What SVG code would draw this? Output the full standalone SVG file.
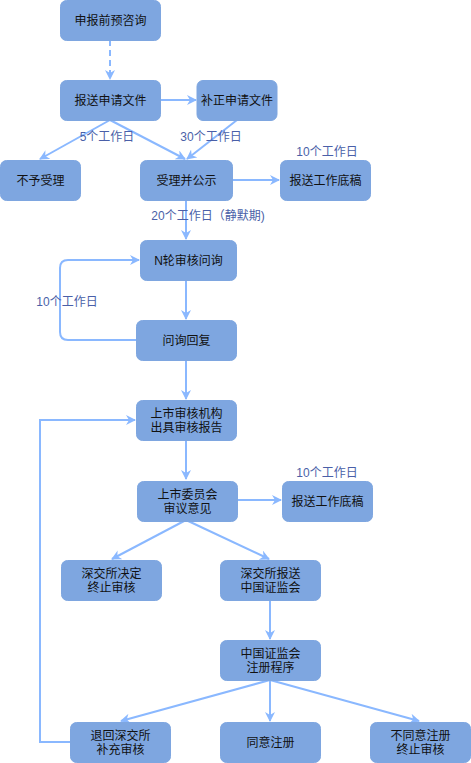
<svg xmlns="http://www.w3.org/2000/svg" width="471" height="763" viewBox="0 0 471 763">
<style>
.n{fill:#7EA6E0;stroke:#7EA6E0;}
.t{font-family:"Liberation Sans","Noto Sans CJK SC",sans-serif;font-size:12px;fill:#111;text-anchor:middle;}
.l{font-family:"Liberation Sans","Noto Sans CJK SC",sans-serif;font-size:12px;fill:#4A5FA8;text-anchor:middle;}
.c{fill:none;stroke:#8AB8FF;stroke-width:2;marker-end:url(#a);}
</style>
<defs>
<marker id="a" viewBox="0 0 10 10" refX="9" refY="5" markerWidth="5" markerHeight="5" orient="auto" markerUnits="strokeWidth">
<path d="M0,0 L10,5 L0,10 L3,5 Z" fill="#8AB8FF"/>
</marker>
</defs>
<rect width="471" height="763" fill="#fff"/>
<g id="connectors">
<path class="c" d="M110,40 V79" stroke-dasharray="6,4"/>
<path class="c" d="M161,100 H196"/>
<path class="c" d="M110,120 L40,159"/>
<path class="c" d="M110,120 L185,159"/>
<path class="c" d="M237,120 L187,159"/>
<path class="c" d="M232,180 H279"/>
<path class="c" d="M186,200 V239"/>
<path class="c" d="M186,280 V319"/>
<path class="c" d="M136,340 H68 Q60,340 60,332 V268 Q60,260 68,260 H139"/>
<path class="c" d="M186,360 V399"/>
<path class="c" d="M186,440 V479"/>
<path class="c" d="M237,500 H281"/>
<path class="c" d="M186,520 L112,559"/>
<path class="c" d="M186,520 L269,559"/>
<path class="c" d="M270,600 V639"/>
<path class="c" d="M270,680 L121,721"/>
<path class="c" d="M270,680 V721"/>
<path class="c" d="M270,680 L419,721"/>
<path class="c" d="M70,742 H40 V420 H135"/>
</g>
<g id="labels">
<text class="l" x="107" y="141">5个工作日</text>
<text class="l" x="211" y="141">30个工作日</text>
<text class="l" x="327" y="156">10个工作日</text>
<text class="l" x="208" y="220">20个工作日（静默期)</text>
<text class="l" x="67" y="306">10个工作日</text>
<text class="l" x="327" y="477">10个工作日</text>
</g>
<g id="n1"><rect class="n" x="60.5" y="0.5" width="100" height="40" rx="6"/><text class="t" x="110.5" y="25">申报前预咨询</text></g>
<g id="n2"><rect class="n" x="60.5" y="80.5" width="100" height="40" rx="6"/><text class="t" x="110.5" y="105">报送申请文件</text></g>
<g id="n3"><rect class="n" x="197" y="80.5" width="80" height="40" rx="6"/><text class="t" x="237" y="105">补正申请文件</text></g>
<g id="n4"><rect class="n" x="0.5" y="160.5" width="80" height="40" rx="6"/><text class="t" x="40.5" y="185">不予受理</text></g>
<g id="n5"><rect class="n" x="140.5" y="160.5" width="92" height="40" rx="6"/><text class="t" x="186.5" y="185">受理并公示</text></g>
<g id="n6"><rect class="n" x="280.5" y="160.5" width="90" height="40" rx="6"/><text class="t" x="325.5" y="185">报送工作底稿</text></g>
<g id="n7"><rect class="n" x="140.5" y="240.5" width="96" height="40" rx="6"/><text class="t" x="188.5" y="265">N轮审核问询</text></g>
<g id="n8"><rect class="n" x="136.5" y="320.5" width="100" height="40" rx="6"/><text class="t" x="186.5" y="345">问询回复</text></g>
<g id="n9"><rect class="n" x="136.5" y="400.5" width="100" height="40" rx="6"/><text class="t" x="186.5" y="418">上市审核机构</text><text class="t" x="186.5" y="432">出具审核报告</text></g>
<g id="n10"><rect class="n" x="137.5" y="481.5" width="100" height="40" rx="6"/><text class="t" x="187.5" y="499">上市委员会</text><text class="t" x="187.5" y="513">审议意见</text></g>
<g id="n11"><rect class="n" x="282.5" y="481.5" width="90" height="40" rx="6"/><text class="t" x="327.5" y="506">报送工作底稿</text></g>
<g id="n12"><rect class="n" x="61.5" y="560.5" width="100" height="40" rx="6"/><text class="t" x="111.5" y="578">深交所决定</text><text class="t" x="111.5" y="592">终止审核</text></g>
<g id="n13"><rect class="n" x="220.5" y="560.5" width="100" height="40" rx="6"/><text class="t" x="270.5" y="578">深交所报送</text><text class="t" x="270.5" y="592">中国证监会</text></g>
<g id="n14"><rect class="n" x="220.5" y="640.5" width="100" height="40" rx="6"/><text class="t" x="270.5" y="658">中国证监会</text><text class="t" x="270.5" y="672">注册程序</text></g>
<g id="n15"><rect class="n" x="70.5" y="722.5" width="100" height="40" rx="6"/><text class="t" x="120.5" y="740">退回深交所</text><text class="t" x="120.5" y="754">补充审核</text></g>
<g id="n16"><rect class="n" x="220.5" y="722.5" width="100" height="40" rx="6"/><text class="t" x="270.5" y="747">同意注册</text></g>
<g id="n17"><rect class="n" x="370.5" y="722.5" width="100" height="40" rx="6"/><text class="t" x="420.5" y="740">不同意注册</text><text class="t" x="420.5" y="754">终止审核</text></g>
</svg>
